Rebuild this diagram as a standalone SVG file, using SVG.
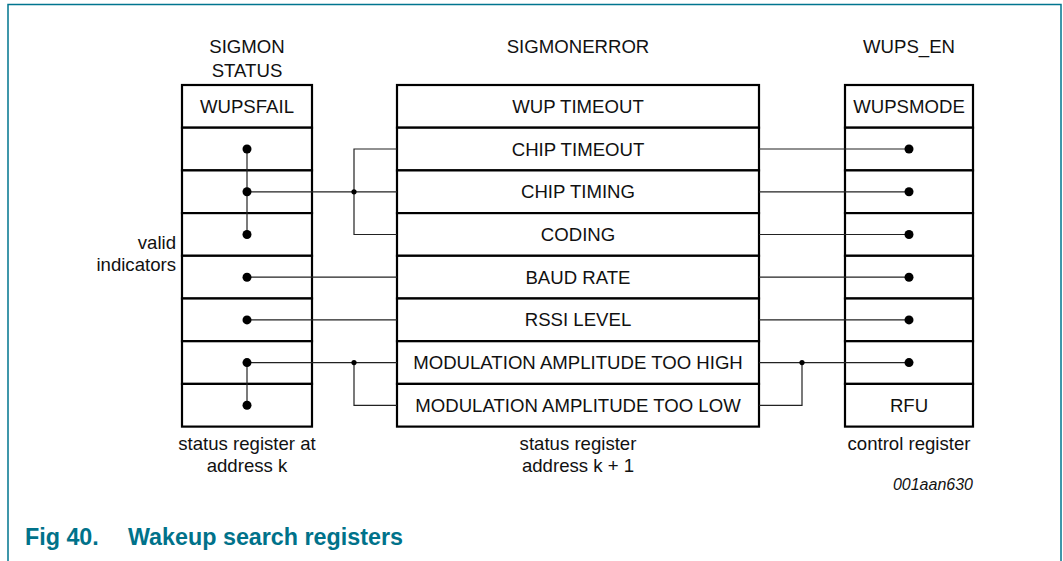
<svg xmlns="http://www.w3.org/2000/svg" width="1063" height="561" viewBox="0 0 1063 561">
<style>
.frame{fill:none;stroke:#00758f;stroke-width:1.5}
.box{fill:#fff;stroke:#000;stroke-width:2.2}
.t{font-family:"Liberation Sans",Arial,sans-serif;font-size:18.6px;fill:#111;text-anchor:middle}
.lbl{font-family:"Liberation Sans",Arial,sans-serif;font-size:18.6px;fill:#111;text-anchor:middle}
.conn{fill:none;stroke:#222;stroke-width:1.2}
.dot{fill:#000}
.cap{font-family:"Liberation Sans",Arial,sans-serif;font-size:23.3px;font-weight:bold;fill:#00728a}
.code{font-family:"Liberation Sans",Arial,sans-serif;font-size:16px;font-style:italic;fill:#111;text-anchor:end}
</style>
<rect width="1063" height="561" fill="#fff"/>
<path class="frame" d="M8,565 V4.5 H1061 V565"/>

<g id="sigmon-status">
  <text class="lbl" x="247" y="53">SIGMON</text>
  <text class="lbl" x="247" y="76.5">STATUS</text>
  <rect class="box" x="182" y="85" width="130" height="42.7"/>
  <rect class="box" x="182" y="127.7" width="130" height="42.7"/>
  <rect class="box" x="182" y="170.4" width="130" height="42.7"/>
  <rect class="box" x="182" y="213.1" width="130" height="42.7"/>
  <rect class="box" x="182" y="255.8" width="130" height="42.7"/>
  <rect class="box" x="182" y="298.5" width="130" height="42.7"/>
  <rect class="box" x="182" y="341.2" width="130" height="42.7"/>
  <rect class="box" x="182" y="383.9" width="130" height="42.7"/>
  <text class="t" x="247" y="112.8">WUPSFAIL</text>
  <text class="lbl" x="247" y="449.5">status register at</text>
  <text class="lbl" x="247" y="472">address k</text>
</g>

<g id="sigmonerror">
  <text class="lbl" x="578" y="53">SIGMONERROR</text>
  <rect class="box" x="397" y="85" width="362" height="42.7"/>
  <rect class="box" x="397" y="127.7" width="362" height="42.7"/>
  <rect class="box" x="397" y="170.4" width="362" height="42.7"/>
  <rect class="box" x="397" y="213.1" width="362" height="42.7"/>
  <rect class="box" x="397" y="255.8" width="362" height="42.7"/>
  <rect class="box" x="397" y="298.5" width="362" height="42.7"/>
  <rect class="box" x="397" y="341.2" width="362" height="42.7"/>
  <rect class="box" x="397" y="383.9" width="362" height="42.7"/>
  <text class="t" x="578" y="112.8">WUP TIMEOUT</text>
  <text class="t" x="578" y="155.5">CHIP TIMEOUT</text>
  <text class="t" x="578" y="198.2">CHIP TIMING</text>
  <text class="t" x="578" y="240.9">CODING</text>
  <text class="t" x="578" y="283.6">BAUD RATE</text>
  <text class="t" x="578" y="326.3">RSSI LEVEL</text>
  <text class="t" x="578" y="369">MODULATION AMPLITUDE TOO HIGH</text>
  <text class="t" x="578" y="411.7">MODULATION AMPLITUDE TOO LOW</text>
  <text class="lbl" x="578" y="449.5">status register</text>
  <text class="lbl" x="578" y="472">address k + 1</text>
</g>

<g id="wups-en">
  <text class="lbl" x="909" y="53">WUPS_EN</text>
  <rect class="box" x="845" y="85" width="128" height="42.7"/>
  <rect class="box" x="845" y="127.7" width="128" height="42.7"/>
  <rect class="box" x="845" y="170.4" width="128" height="42.7"/>
  <rect class="box" x="845" y="213.1" width="128" height="42.7"/>
  <rect class="box" x="845" y="255.8" width="128" height="42.7"/>
  <rect class="box" x="845" y="298.5" width="128" height="42.7"/>
  <rect class="box" x="845" y="341.2" width="128" height="42.7"/>
  <rect class="box" x="845" y="383.9" width="128" height="42.7"/>
  <text class="t" x="909" y="112.8">WUPSMODE</text>
  <text class="t" x="909" y="411.7">RFU</text>
  <text class="lbl" x="909" y="449.5">control register</text>
</g>

<g id="valid-indicators">
  <text class="lbl" x="176" y="248.5" style="text-anchor:end">valid</text>
  <text class="lbl" x="176" y="271" style="text-anchor:end">indicators</text>
</g>

<g id="connectors">
  <path class="conn" d="M247,149 V234.5"/>
  <path class="conn" d="M247,191.8 H397"/>
  <path class="conn" d="M397,149 H354 V234.5 H397"/>
  <path class="conn" d="M247,277.2 H397"/>
  <path class="conn" d="M247,319.9 H397"/>
  <path class="conn" d="M247,362.6 H397"/>
  <path class="conn" d="M247,362.6 V405.3"/>
  <path class="conn" d="M354,362.6 V405.3 H397"/>
  <path class="conn" d="M759,149 H909"/>
  <path class="conn" d="M759,191.8 H909"/>
  <path class="conn" d="M759,234.5 H909"/>
  <path class="conn" d="M759,277.2 H909"/>
  <path class="conn" d="M759,319.9 H909"/>
  <path class="conn" d="M759,362.6 H909"/>
  <path class="conn" d="M802,362.6 V405.3 H759"/>
  <circle class="dot" cx="247" cy="149" r="4.5"/>
  <circle class="dot" cx="247" cy="191.8" r="4.5"/>
  <circle class="dot" cx="247" cy="234.5" r="4.5"/>
  <circle class="dot" cx="247" cy="277.2" r="4.5"/>
  <circle class="dot" cx="247" cy="319.9" r="4.5"/>
  <circle class="dot" cx="247" cy="362.6" r="4.5"/>
  <circle class="dot" cx="247" cy="405.3" r="4.5"/>
  <circle class="dot" cx="354" cy="191.8" r="2.6"/>
  <circle class="dot" cx="354" cy="362.6" r="2.6"/>
  <circle class="dot" cx="802" cy="362.6" r="2.6"/>
  <circle class="dot" cx="909" cy="149" r="4.5"/>
  <circle class="dot" cx="909" cy="191.8" r="4.5"/>
  <circle class="dot" cx="909" cy="234.5" r="4.5"/>
  <circle class="dot" cx="909" cy="277.2" r="4.5"/>
  <circle class="dot" cx="909" cy="319.9" r="4.5"/>
  <circle class="dot" cx="909" cy="362.6" r="4.5"/>
</g>

<text class="code" x="973" y="490">001aan630</text>
<text class="cap" x="25" y="545">Fig 40.</text>
<text class="cap" x="128" y="545">Wakeup search registers</text>
</svg>
